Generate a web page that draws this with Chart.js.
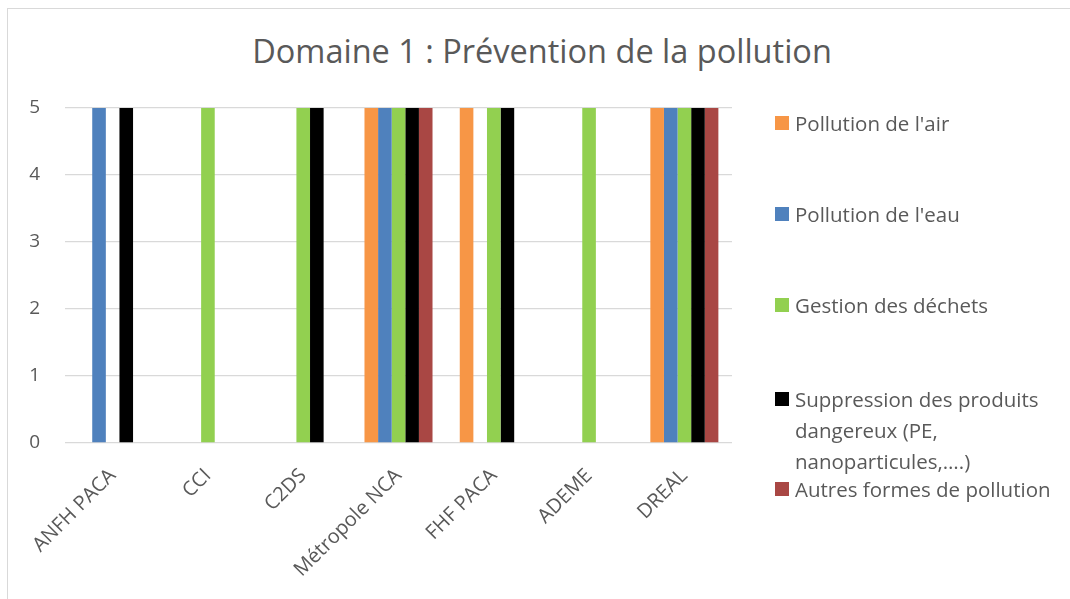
<!DOCTYPE html>
<html>
<head>
<meta charset="utf-8">
<script src="https://cdn.jsdelivr.net/npm/chart.js@4"></script>
<style>
    html, body { margin: 0; padding: 0; background: #fff; overflow: hidden; }
    #wrap { position: relative; width: 1070px; height: 599px; overflow: hidden; }
    #frame { position: absolute; left: 7px; top: 8px; width: 1080px; height: 600px; border: 1px solid #d9d9d9; box-sizing: border-box; }
    #title { position: absolute; left: 0; width: 1084px; top: 29px; text-align: center; font: 400 32.5px "Open Sans", sans-serif; color: #595959; white-space: nowrap; line-height: 44px; }
    canvas { position: absolute; left: 0; top: 0; }
    .leg { position: absolute; left: 775px; font: 400 20.5px "Open Sans", sans-serif; color: #595959; line-height: 31px; }
    .leg .box { position: absolute; left: 0; top: 8px; width: 14px; height: 14px; }
    .leg .txt { position: absolute; left: 20px; top: 0; width: 290px; white-space: nowrap; }
</style>
</head>
<body>
<div id="wrap">
    <div id="frame"></div>
    <div id="title">Domaine 1 : Prévention de la pollution</div>
    <canvas id="chart" width="1070" height="599"></canvas>
    <div id="legend"></div>
</div>
<script>
const categories = ['ANFH PACA', 'CCI', 'C2DS', 'Métropole NCA', 'FHF PACA', 'ADEME', 'DREAL'];
const seriesNames = [
    "Pollution de l'air",
    "Pollution de l'eau",
    "Gestion des déchets",
    ["Suppression des produits", "dangereux (PE,", "nanoparticules,….)"],
    "Autres formes de pollution"
];
const seriesColors = ['#F79646', '#4F81BD', '#92D050', '#000000', '#A94744'];
const air      = [0, 0, 0, 5, 5, 0, 5];
const eau      = [5, 0, 0, 5, 0, 0, 5];
const dechets  = [0, 5, 5, 5, 5, 5, 5];
const produits = [5, 0, 5, 5, 5, 0, 5];
const autres   = [0, 0, 0, 5, 0, 0, 5];
const yTicks = [0, 1, 2, 3, 4, 5];

const seriesData = [air, eau, dechets, produits, autres];

const chart = new Chart(
    document.getElementById('chart').getContext('2d'),
    {
        type: 'bar',
        data: {
            labels: categories,
            datasets: seriesData.map((d, i) => ({
                label: [].concat(seriesNames[i]).join(' '),
                data: d,
                backgroundColor: seriesColors[i],
                borderWidth: 0,
                categoryPercentage: 0.714,
                barPercentage: 1.0
            }))
        },
        options: {
            responsive: false,
            animation: false,
            layout: { padding: { left: 0, right: 338, top: 108, bottom: 0 } },
            plugins: {
                legend: { display: false },
                title: { display: false },
                tooltip: { enabled: false }
            },
            scales: {
                y: {
                    min: 0,
                    max: 5,
                    afterFit: (s) => { s.width = 65; },
                    afterBuildTicks: (s) => { s.ticks = yTicks.map(v => ({ value: v })); },
                    border: { display: false },
                    grid: { color: '#d9d9d9', lineWidth: 1.3, drawTicks: false },
                    ticks: {
                        padding: 25,
                        color: '#595959',
                        font: { family: 'Open Sans', size: 19 }
                    }
                },
                x: {
                    afterFit: (s) => { s.height = 156; },
                    border: { display: false },
                    grid: { display: false, drawTicks: false },
                    ticks: {
                        autoSkip: false,
                        minRotation: 45,
                        maxRotation: 45,
                        padding: 21,
                        color: '#595959',
                        font: { family: 'Open Sans', size: 20 }
                    }
                }
            }
        }
    }
)

// legend at the right, Excel-like spacing
const legendTops = [108, 199, 290, 384, 474];
const legDom = document.getElementById('legend');
seriesNames.forEach((name, i) => {
    const lines = [].concat(name);
    legDom.innerHTML += `
        <div class="leg" style="top:${legendTops[i]}px">
            <div class="box" style="background:${seriesColors[i]}"></div>
            <div class="txt">${lines.join('<br>')}</div>
        </div>`;
});
</script>
</body>
</html>
